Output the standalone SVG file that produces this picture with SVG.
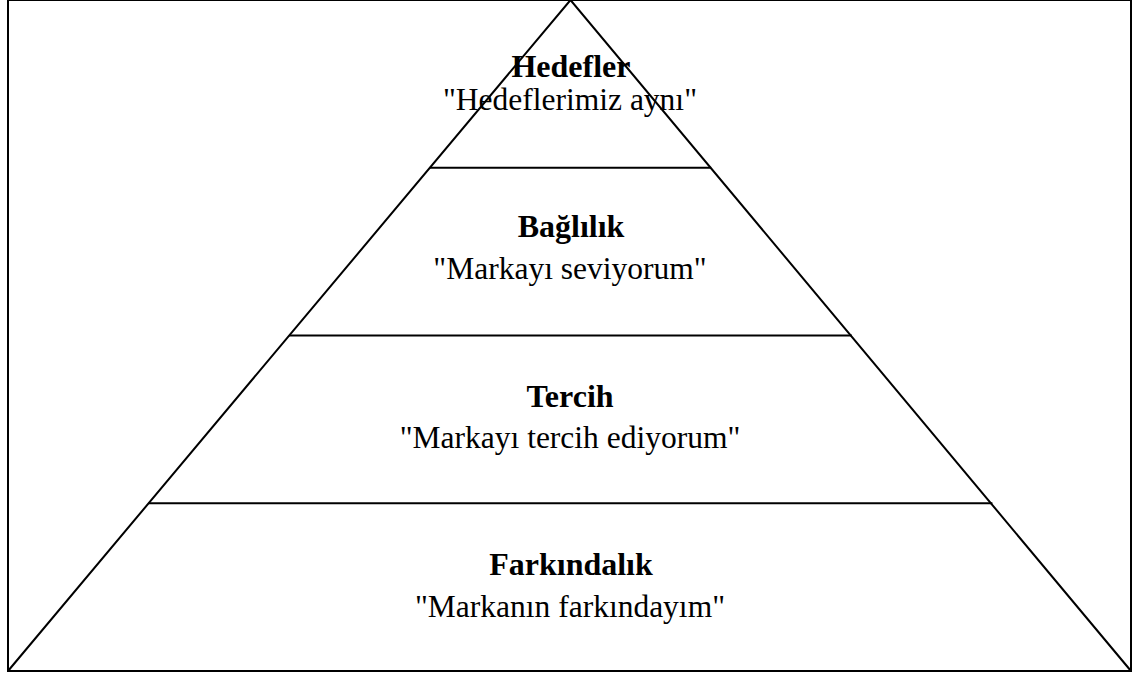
<svg xmlns="http://www.w3.org/2000/svg" width="1134" height="676" viewBox="0 0 1134 676">
  <style>
    .frame { fill: #ffffff; stroke: #000000; stroke-width: 2; }
    .edge { fill: none; stroke: #000000; stroke-width: 2; stroke-linejoin: miter; }
    .title { font-family: "Liberation Serif", "Times New Roman", serif; font-weight: bold; font-size: 32px; fill: #000000; text-anchor: middle; }
    .quote { font-family: "Liberation Serif", "Times New Roman", serif; font-size: 31.5px; fill: #000000; text-anchor: middle; }
  </style>
  <rect x="0" y="0" width="1134" height="676" fill="#ffffff"/>
  <!-- outer frame -->
  <rect class="frame" x="8" y="0" width="1123" height="671"/>
  <!-- pyramid outline and tier dividers -->
  <g id="connectors">
    <path class="edge" d="M8 671 L570.5 0 L1131 671"/>
    <line class="edge" x1="429.8" y1="167.75" x2="711.2" y2="167.75"/>
    <line class="edge" x1="289.2" y1="335.5" x2="851.8" y2="335.5"/>
    <line class="edge" x1="148.6" y1="503.25" x2="992.4" y2="503.25"/>
  </g>
  <g id="tier-hedefler">
    <text class="title" x="571" y="77">Hedefler</text>
    <text class="quote" x="570" y="110">"Hedeflerimiz aynı"</text>
  </g>
  <g id="tier-baglilik">
    <text class="title" x="571" y="237">Bağlılık</text>
    <text class="quote" x="570" y="279">"Markayı seviyorum"</text>
  </g>
  <g id="tier-tercih">
    <text class="title" x="570" y="407">Tercih</text>
    <text class="quote" x="570" y="448">"Markayı tercih ediyorum"</text>
  </g>
  <g id="tier-farkindalik">
    <text class="title" x="571" y="575">Farkındalık</text>
    <text class="quote" x="570" y="617">"Markanın farkındayım"</text>
  </g>
</svg>
